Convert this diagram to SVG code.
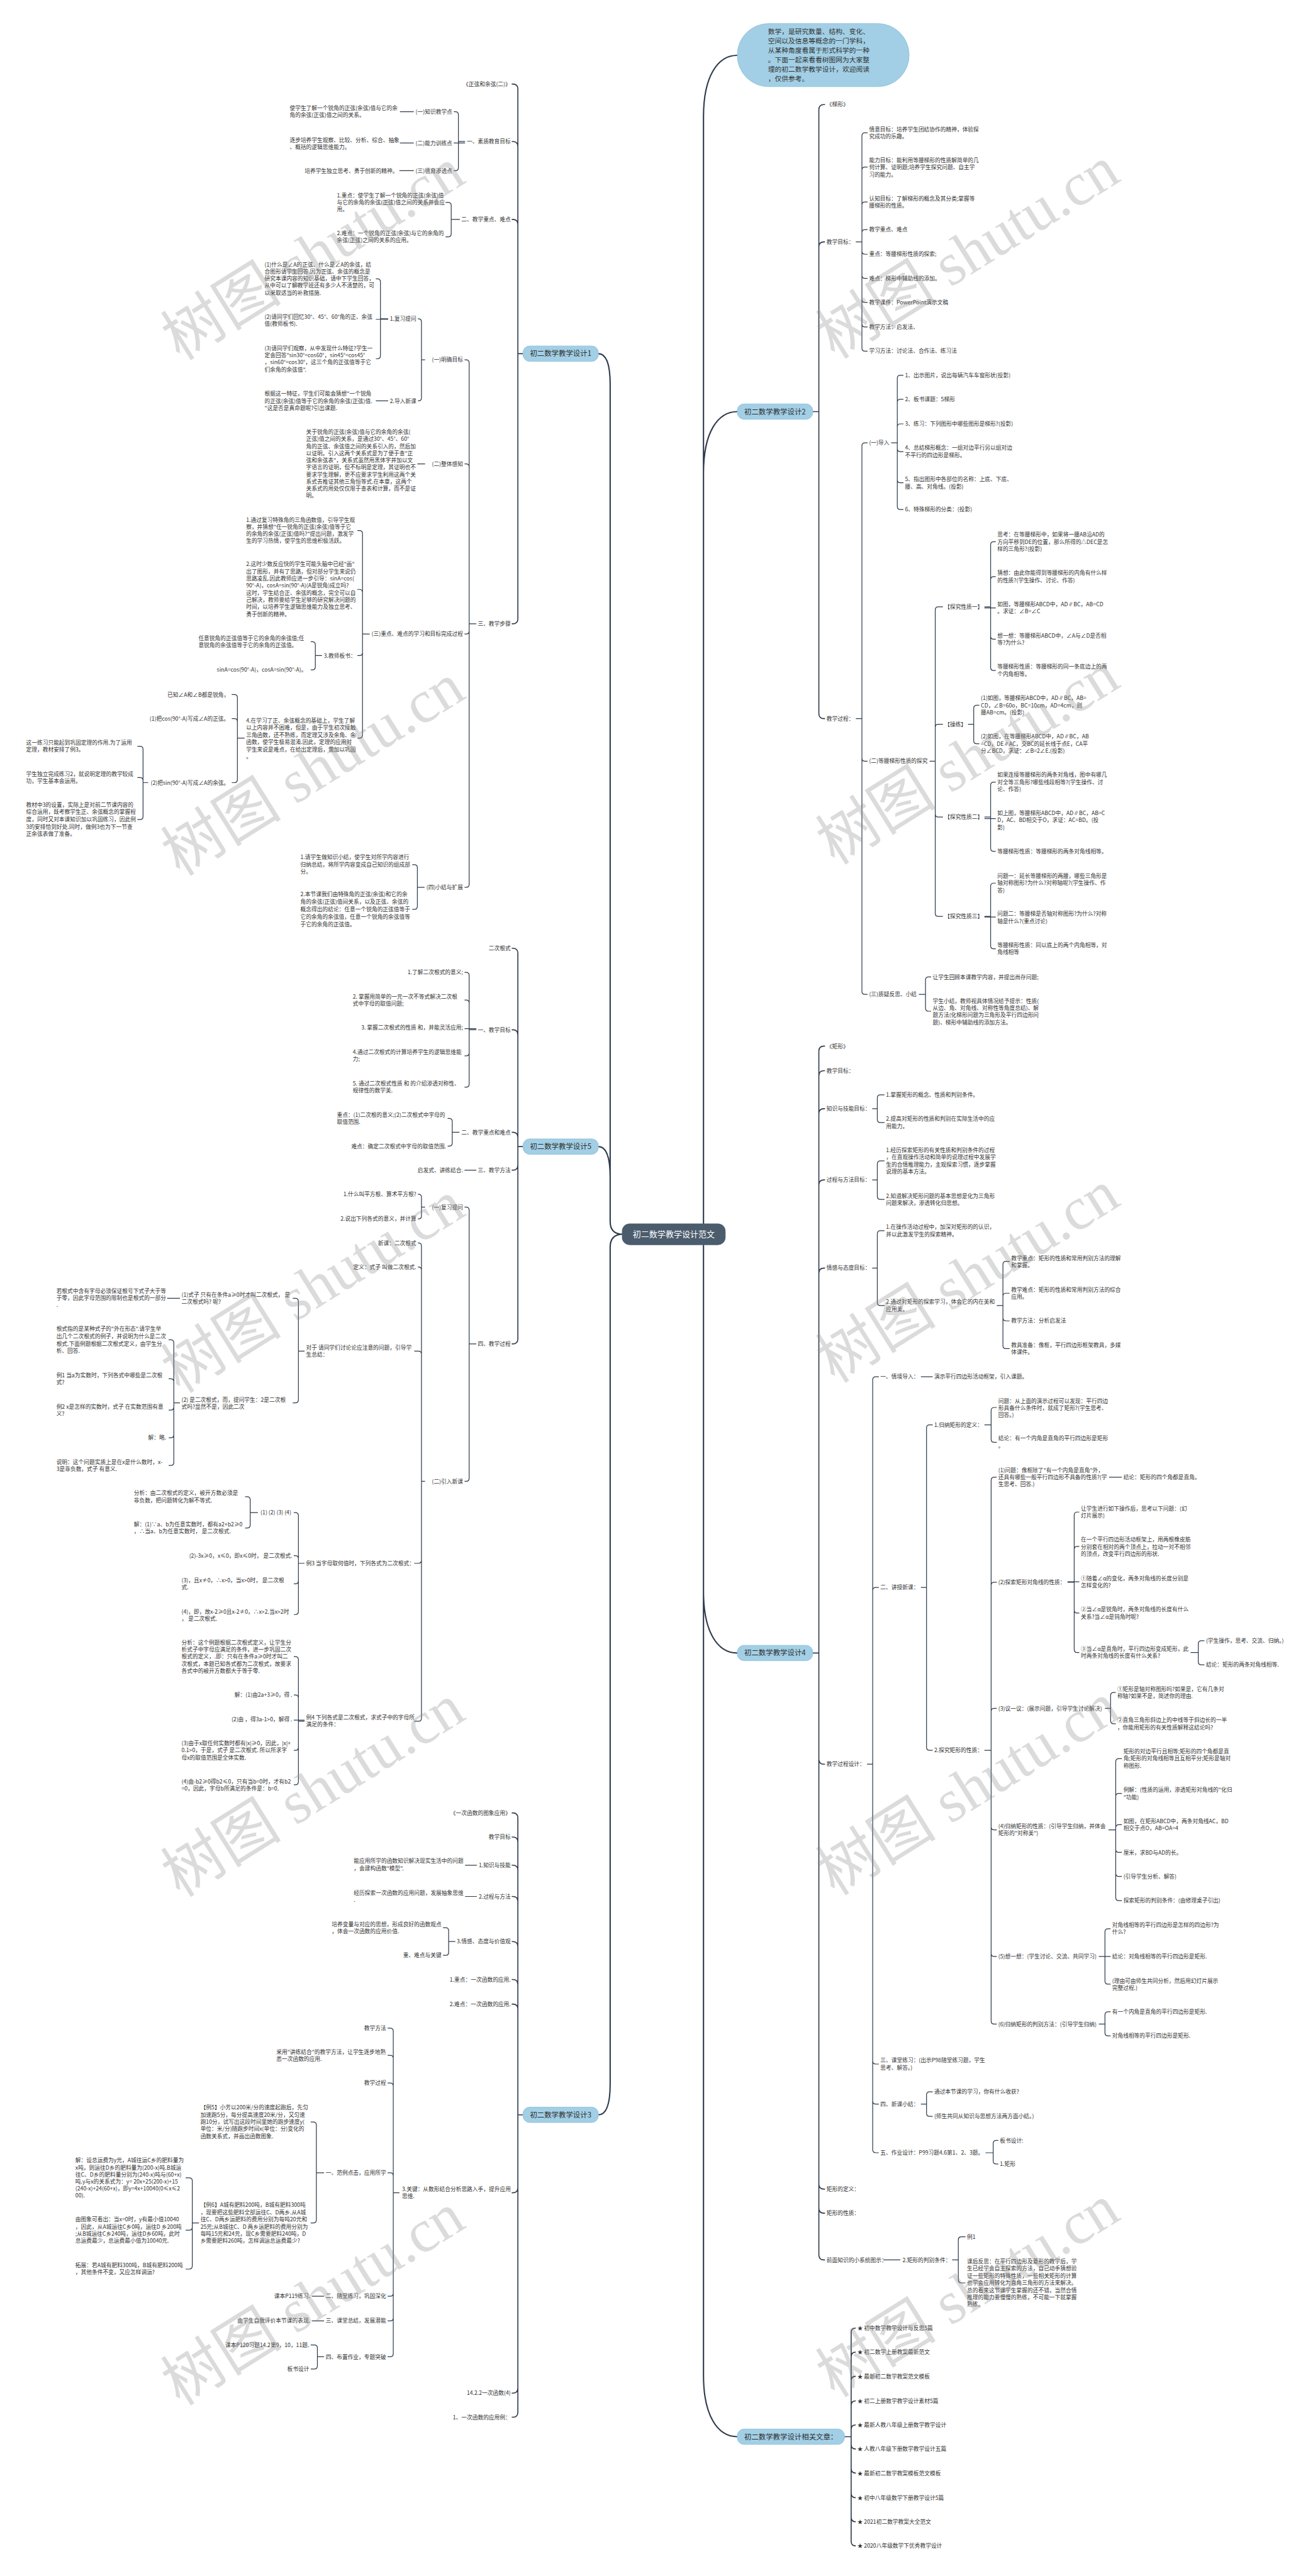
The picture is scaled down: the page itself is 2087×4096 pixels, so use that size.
<svg xmlns="http://www.w3.org/2000/svg" width="2087" height="4096" viewBox="0 0 2087 4096">
<style>
.t{font-family:"Noto Sans CJK SC","Liberation Sans",sans-serif;font-size:10.7px;fill:#333}
.e{text-anchor:end}
.c{fill:none;stroke:#2e3c4c;stroke-width:1.5}
.c2{stroke-width:2}
.c1{stroke-width:2.6}
.n1 rect{fill:#a2cfe5;stroke:#86bdd8;stroke-width:1}
.n1 text{font-family:"Noto Sans CJK SC","Liberation Sans",sans-serif;font-size:14px;fill:#2d2d2d;text-anchor:middle}
.root rect{fill:#4b5c6d}
.root text{font-family:"Noto Sans CJK SC","Liberation Sans",sans-serif;font-size:16px;fill:#fff;text-anchor:middle}
.bub text{font-family:"Noto Sans CJK SC","Liberation Sans",sans-serif;font-size:13.2px;fill:#333}
.wm{font-family:"Liberation Serif","Noto Sans CJK SC",serif;font-size:118px;fill:#8c8c8c;opacity:.3}
</style>
<rect width="2087" height="4096" fill="#fff"/>
<g transform="scale(0.815)">
<g id="connectors">
<path class="c c1" d="M1372 2408V228C1372 148 1400 108 1438 108M1372 2408V923C1372 843 1400 803 1438 803M1372 2408V3105C1372 3185 1400 3225 1438 3225M1372 2408V4634C1372 4714 1400 4754 1438 4754M1215 2408C1198 2408 1190 2400 1190 2383V750C1190 710 1182 690 1167 690M1215 2408C1198 2408 1190 2400 1190 2383V2297C1190 2257 1182 2237 1167 2237M1215 2408C1198 2408 1190 2416 1190 2433V4066C1190 4106 1182 4126 1167 4126"/>
<path class="c c2" d="M1020 690H1010V174Q1010 164 1000 164H998M1020 690H1010V286Q1010 276 1000 276H998M1020 690H1010V438Q1010 428 1000 428H998M1020 690H1010V1207Q1010 1217 1000 1217H998
M1020 2237H1010V1860Q1010 1850 1000 1850H998M1020 2237H1010V2019Q1010 2009 1000 2009H998M1020 2237H1010V2219Q1010 2209 1000 2209H998M1020 2237H1010V2273Q1010 2283 1000 2283H998M1020 2237H1010V2612Q1010 2622 1000 2622H998
M1020 4126H1010V3547Q1010 3537 1000 3537H998M1020 4126H1010V3594Q1010 3584 1000 3584H998M1020 4126H1010V3649Q1010 3639 1000 3639H998M1020 4126H1010V3710Q1010 3700 1000 3700H998M1020 4126H1010V3798Q1010 3788 1000 3788H998M1020 4126H1010V3872Q1010 3862 1000 3862H998M1020 4126H1010V3920Q1010 3910 1000 3910H998M1020 4126H1010V4268Q1010 4278 1000 4278H998M1020 4126H1010V4659Q1010 4669 1000 4669H998M1020 4126H1010V4706Q1010 4716 1000 4716H998
M1585 803H1597V214Q1597 204 1607 204H1609M1585 803H1597V482Q1597 472 1607 472H1609M1585 803H1597V1392Q1597 1402 1607 1402H1609
M1585 3225H1597V2051Q1597 2041 1607 2041H1609M1585 3225H1597V2099Q1597 2089 1607 2089H1609M1585 3225H1597V2173Q1597 2163 1607 2163H1609M1585 3225H1597V2312Q1597 2302 1607 2302H1609M1585 3225H1597V2484Q1597 2474 1607 2474H1609M1585 3225H1597V3432Q1597 3442 1607 3442H1609M1585 3225H1597V4261Q1597 4271 1607 4271H1609M1585 3225H1597V4308Q1597 4318 1607 4318H1609M1585 3225H1597V4399Q1597 4409 1607 4409H1609
M1647 4754H1660V4551Q1660 4542 1669 4542M1647 4754H1660V4598Q1660 4589 1669 4589M1647 4754H1660V4645Q1660 4636 1669 4636M1647 4754H1660V4693Q1660 4684 1669 4684M1647 4754H1660V4740Q1660 4731 1669 4731M1647 4754H1660V4769Q1660 4778 1669 4778M1647 4754H1660V4816Q1660 4825 1669 4825M1647 4754H1660V4864Q1660 4873 1669 4873M1647 4754H1660V4911Q1660 4920 1669 4920M1647 4754H1660V4958Q1660 4967 1669 4967"/>
<path class="c" d="M907 276H894V224Q894 218 888 218H885M907 279H885M907 276H894V327Q894 333 888 333H885M807 218H780M807 279H780M807 333H779
M897 428H880V401Q880 395 874 395H869M897 428H880V456Q880 462 874 462H869
M929 1217H915V708Q915 702 909 702H906M929 1217H915V911Q915 905 909 905H906M929 1217H915V1231Q915 1237 909 1237H906M929 1217H915V1725Q915 1731 909 1731H906
M829 702H822V628Q822 622 816 622H815M829 702H822V776Q822 782 816 782H815
M757 622H742V550Q742 544 736 544H733M757 623H733M757 622H742V694Q742 700 736 700H733M757 782H733M829 905H814
M721 1237H707V1041Q707 1035 701 1035H697M721 1237H707V1156Q707 1150 701 1150H697M721 1237H707V1273Q707 1279 701 1279H697M721 1237H707V1434Q707 1440 701 1440H697
M628 1279H615V1258Q615 1252 609 1252H606M628 1279H615V1301Q615 1307 609 1307H606
M477 1440H463V1361Q463 1355 457 1355H452M477 1440H463V1408Q463 1402 457 1402H452M477 1440H463V1521Q463 1527 457 1527H452
M289 1527H279V1462Q279 1456 273 1456H268M289 1527H279V1523Q279 1517 273 1517H268M289 1527H279V1593Q279 1599 273 1599H268
M828 1731H814V1693Q814 1687 808 1687H804M828 1731H814V1768Q814 1774 808 1774H804
M929 2009H915V1903Q915 1897 909 1897H906M929 2009H915V1957Q915 1951 909 1951H906M929 2007H906M929 2009H915V2054Q915 2060 909 2060H906M929 2009H915V2115Q915 2121 909 2121H906
M896 2209H882V2188Q882 2182 876 2182H873M896 2209H882V2230Q882 2236 876 2236H873M929 2283H906
M929 2622H915V2361Q915 2355 909 2355H906M929 2622H915V2884Q915 2890 909 2890H906
M829 2355H822V2336Q822 2330 816 2330H815M829 2355H822V2372Q822 2378 816 2378H815
M829 2890H822V2431Q822 2425 816 2425H815M829 2890H822V2478Q822 2472 816 2472H815M829 2890H822V2642Q822 2636 816 2636H808M829 2890H822V3044Q822 3050 816 3050H808M829 2890H822V3352Q822 3358 816 3358H808
M594 2636H582V2539Q582 2533 576 2533H571M594 2636H582V2731Q582 2737 576 2737H571M351 2533H326
M351 2737H339V2620Q339 2614 333 2614H329M351 2737H339V2696Q339 2690 333 2690H329M351 2737H339V2745Q339 2751 333 2751H329M351 2737H339V2799Q339 2805 333 2805H329M351 2737H339V2853Q339 2859 333 2859H329
M594 3050H582V2957Q582 2951 576 2951H573M594 3050H582V3041Q582 3035 576 3035H573M594 3050H582V3084Q582 3090 576 3090H573M594 3050H582V3144Q582 3150 576 3150H573
M503 2951H488V2926Q488 2920 482 2920H478M503 2951H488V2975Q488 2981 482 2981H478
M594 3358H582V3238Q582 3232 576 3232H573M594 3358H582V3313Q582 3307 576 3307H573M594 3356H573M594 3358H582V3409Q582 3415 576 3415H573M594 3358H582V3476Q582 3482 576 3482H573
M930 3639H907M930 3700H907M888 3788H875V3767Q875 3761 869 3761H864M888 3788H875V3809Q875 3815 869 3815H864
M779 4278H767V3963Q767 3957 761 3957H756M779 4278H767V4016Q767 4010 761 4010H756M779 4278H767V4070Q767 4064 761 4064H756M779 4278H767V4245Q767 4239 761 4239H756M779 4278H767V4474Q767 4480 761 4480H756M779 4278H767V4522Q767 4528 761 4528H756M779 4278H767V4592Q767 4598 761 4598H756
M632 4239H617V4146Q617 4140 611 4140H606M632 4239H617V4331Q617 4337 611 4337H606
M388 4337H375V4255Q375 4249 369 4249H362M388 4337H375V4345Q375 4351 369 4351H362M388 4337H375V4421Q375 4427 369 4427H362
M632 4480H608M632 4528H608M632 4598H619V4581Q619 4575 613 4575H606M632 4598H619V4616Q619 4622 613 4622H606
M1669 472H1681V265Q1681 259 1687 259H1692M1669 472H1681V332Q1681 326 1687 326H1692M1669 472H1681V400Q1681 394 1687 394H1692M1669 472H1681V454Q1681 448 1687 448H1692M1669 472H1681V490Q1681 496 1687 496H1692M1669 472H1681V537Q1681 543 1687 543H1692M1669 472H1681V584Q1681 590 1687 590H1692M1669 472H1681V632Q1681 638 1687 638H1692M1669 472H1681V679Q1681 685 1687 685H1692
M1669 1402H1681V870Q1681 864 1687 864H1692M1669 1402H1681V1479Q1681 1485 1687 1485H1692M1669 1402H1681V1934Q1681 1940 1687 1940H1692
M1738 864H1750V738Q1750 732 1756 732H1762M1738 864H1750V785Q1750 779 1756 779H1762M1738 864H1750V833Q1750 827 1756 827H1762M1738 864H1750V875Q1750 881 1756 881H1762M1738 864H1750V936Q1750 942 1756 942H1762M1738 864H1750V988Q1750 994 1756 994H1762
M1813 1485H1824V1190Q1824 1184 1830 1184H1839M1813 1485H1824V1419Q1824 1413 1830 1413H1839M1813 1485H1824V1588Q1824 1594 1830 1594H1839M1813 1485H1824V1782Q1824 1788 1830 1788H1839
M1920 1184H1932V1063Q1932 1057 1938 1057H1942M1920 1184H1932V1131Q1932 1125 1938 1125H1942M1920 1186H1942M1920 1184H1932V1241Q1932 1247 1938 1247H1942M1920 1184H1932V1302Q1932 1308 1938 1308H1942
M1888 1413H1899V1382Q1899 1376 1905 1376H1910M1888 1413H1899V1445Q1899 1451 1905 1451H1910
M1920 1594H1932V1532Q1932 1526 1938 1526H1942M1920 1597H1942M1920 1594H1932V1655Q1932 1661 1938 1661H1942
M1920 1788H1932V1729Q1932 1723 1938 1723H1942M1920 1789H1942M1920 1788H1932V1845Q1932 1851 1938 1851H1942
M1792 1940H1805V1912Q1805 1906 1811 1906H1816M1792 1940H1805V1967Q1805 1973 1811 1973H1816
M1701 2163H1711V2142Q1711 2136 1717 2136H1725M1701 2163H1711V2184Q1711 2190 1717 2190H1725
M1701 2302H1711V2271Q1711 2265 1717 2265H1725M1701 2302H1711V2334Q1711 2340 1717 2340H1725
M1701 2474H1711V2407Q1711 2401 1717 2401H1725M1701 2474H1711V2541Q1711 2547 1717 2547H1725
M1944 2547H1956V2467Q1956 2461 1962 2461H1969M1944 2547H1956V2529Q1956 2523 1962 2523H1969M1944 2547H1956V2571Q1956 2577 1962 2577H1969M1944 2547H1956V2625Q1956 2631 1962 2631H1969
M1691 3442H1702V2692Q1702 2686 1708 2686H1714M1691 3442H1702V3103Q1702 3097 1708 3097H1714M1691 3442H1702V4021Q1702 4027 1708 4027H1714M1691 3442H1702V4099Q1702 4105 1708 4105H1714M1691 3442H1702V4194Q1702 4200 1708 4200H1714
M1796 2686H1819M1796 3097H1807V2786Q1807 2780 1813 2780H1819M1796 3097H1807V3409Q1807 3415 1813 3415H1819
M1920 2780H1933V2752Q1933 2746 1939 2746H1944M1920 2780H1933V2808Q1933 2814 1939 2814H1944
M1920 3415H1933V2888Q1933 2882 1939 2882H1944M1920 3415H1933V3093Q1933 3087 1939 3087H1944M1920 3415H1933V3339Q1933 3333 1939 3333H1944M1920 3415H1933V3564Q1933 3570 1939 3570H1944M1920 3415H1933V3811Q1933 3817 1939 3817H1944M1920 3415H1933V3943Q1933 3949 1939 3949H1944
M2163 2882H2188
M2082 3087H2095V2956Q2095 2950 2101 2950H2105M2082 3087H2095V3023Q2095 3017 2101 3017H2105M2082 3086H2105M2082 3087H2095V3141Q2095 3147 2101 3147H2105M2082 3087H2095V3218Q2095 3224 2101 3224H2105
M2322 3224H2337V3207Q2337 3201 2343 3201H2349M2322 3224H2337V3242Q2337 3248 2343 3248H2349
M2155 3333H2166V3308Q2166 3302 2172 3302H2176M2155 3333H2166V3357Q2166 3363 2172 3363H2176
M2162 3570H2176V3437Q2176 3431 2182 3431H2188M2162 3570H2176V3505Q2176 3499 2182 3499H2188M2162 3570H2176V3566Q2176 3560 2182 3560H2188M2162 3570H2176V3608Q2176 3614 2182 3614H2188M2162 3570H2176V3655Q2176 3661 2182 3661H2188M2162 3570H2176V3702Q2176 3708 2182 3708H2188
M2143 3817H2155V3769Q2155 3763 2161 3763H2166M2143 3817H2166M2143 3817H2155V3865Q2155 3871 2161 3871H2166
M2143 3949H2155V3931Q2155 3925 2161 3925H2166M2143 3949H2155V3966Q2155 3972 2161 3972H2166
M1796 4105H1807V4087Q1807 4081 1813 4081H1819M1796 4105H1807V4123Q1807 4129 1813 4129H1819
M1922 4200H1937V4182Q1937 4176 1943 4176H1947M1922 4200H1937V4216Q1937 4222 1943 4222H1947
M1723 4409H1756M1857 4409H1869V4370Q1869 4364 1875 4364H1883M1857 4409H1869V4448Q1869 4454 1875 4454H1883"/>
</g>

<g id="root" class="root"><rect x="1213" y="2387" width="202" height="42" rx="15"/><text x="1314" y="2413.6">初二数学教学设计范文</text></g>
<g id="intro" class="bub"><rect x="1438" y="46" width="335" height="123" rx="61" fill="#a2cfe5" stroke="#86bdd8"/>
<text x="1498" y="66.8"><tspan>数学，是研究数量、结构、变化、</tspan><tspan x="1498" dy="18.2">空间以及信息等概念的一门学科，</tspan><tspan x="1498" dy="18.2">从某种角度看属于形式科学的一种</tspan><tspan x="1498" dy="18.2">。下面一起来看看树图网为大家整</tspan><tspan x="1498" dy="18.2">理的初二数学教学设计，欢迎阅读</tspan><tspan x="1498" dy="18.2">，仅供参考。</tspan></text></g>
<g id="d1" class="n1"><rect x="1020" y="675" width="147" height="30" rx="13"/><text x="1093.5" y="695">初二数学教学设计1</text></g>
<g id="d5" class="n1"><rect x="1020" y="2222" width="147" height="30" rx="13"/><text x="1093.5" y="2242">初二数学教学设计5</text></g>
<g id="d3" class="n1"><rect x="1020" y="4111" width="147" height="30" rx="13"/><text x="1093.5" y="4131">初二数学教学设计3</text></g>
<g id="d2" class="n1"><rect x="1438" y="788" width="147" height="30" rx="13"/><text x="1511.5" y="808">初二数学教学设计2</text></g>
<g id="d4" class="n1"><rect x="1438" y="3210" width="147" height="30" rx="13"/><text x="1511.5" y="3230">初二数学教学设计4</text></g>
<g id="rel" class="n1"><rect x="1438" y="4739" width="209" height="30" rx="13"/><text x="1542.5" y="4759">初二数学教学设计相关文章：</text></g>

<g id="design1-items">
<g id="a1"><text class="t e" x="996" y="167.9">《正弦和余弦(二)》</text></g>
<g id="a2"><text class="t e" x="996" y="279.9">一、素质教育目标</text></g>
<g id="a3"><text class="t e" x="882" y="221.9">(一)知识教学点</text></g>
<g id="a4"><text class="t" x="565" y="214.9"><tspan>使学生了解一个锐角的正弦(余弦)值与它的余</tspan><tspan x="565" dy="13.5">角的余弦(正弦)值之间的关系。</tspan></text></g>
<g id="a5"><text class="t e" x="882" y="282.9">(二)能力训练点</text></g>
<g id="a6"><text class="t" x="565" y="276.9"><tspan>逐步培养学生观察、比较、分析、综合、抽象</tspan><tspan x="565" dy="13.5">、概括的逻辑思维能力。</tspan></text></g>
<g id="a7"><text class="t e" x="882" y="336.9">(三)德育渗透点</text></g>
<g id="a8"><text class="t e" x="776" y="336.9">培养学生独立思考、勇于创新的精神。</text></g>
<g id="a9"><text class="t e" x="996" y="431.9">二、教学重点、难点</text></g>
<g id="a10"><text class="t" x="657" y="384.9"><tspan>1.重点：使学生了解一个锐角的正弦(余弦)值</tspan><tspan x="657" dy="13.5">与它的余角的余弦(正弦)值之间的关系并会应</tspan><tspan x="657" dy="13.5">用。</tspan></text></g>
<g id="a11"><text class="t" x="657" y="458.9"><tspan>2.难点：一个锐角的正弦(余弦)与它的余角的</tspan><tspan x="657" dy="13.5">余弦(正弦)之间的关系的应用。</tspan></text></g>
<g id="a12"><text class="t e" x="996" y="1220.9">三、教学步骤</text></g>
<g id="a13"><text class="t e" x="903" y="705.9">(一)明确目标</text></g>
<g id="a14"><text class="t e" x="812" y="625.9">1.复习提问</text></g>
<g id="a15"><text class="t" x="516" y="519.9"><tspan>(1)什么是∠A的正弦、什么是∠A的余弦，结</tspan><tspan x="516" dy="13.8">合图形请学生回答.因为正弦、余弦的概念是</tspan><tspan x="516" dy="13.8">研究本课内容的知识基础，请中下学生回答，</tspan><tspan x="516" dy="13.8">从中可以了解教学班还有多少人不清楚的，可</tspan><tspan x="516" dy="13.8">以采取适当的补救措施.</tspan></text></g>
<g id="a16"><text class="t" x="516" y="621.9"><tspan>(2)请同学们回忆30°、45°、60°角的正、余弦</tspan><tspan x="516" dy="13.8">值(教师板书).</tspan></text></g>
<g id="a17"><text class="t" x="516" y="682.9"><tspan>(3)请同学们观察，从中发现什么特征?学生一</tspan><tspan x="516" dy="14">定会回答"sin30°=cos60°，sin45°=cos45°</tspan><tspan x="516" dy="14">，sin60°=cos30°，这三个角的正弦值等于它</tspan><tspan x="516" dy="14">们余角的余弦值".</tspan></text></g>
<g id="a18"><text class="t e" x="812" y="785.9">2.导入新课</text></g>
<g id="a19"><text class="t" x="516" y="771.9"><tspan>根据这一特征，学生们可能会猜想"一个锐角</tspan><tspan x="516" dy="14">的正弦(余弦)值等于它的余角的余弦(正弦)值.</tspan><tspan x="516" dy="14">"这是否是真命题呢?引出课题.</tspan></text></g>
<g id="a20"><text class="t e" x="903" y="908.9">(二)整体感知</text></g>
<g id="a21"><text class="t" x="597" y="846.9"><tspan>关于锐角的正弦(余弦)值与它的余角的余弦(</tspan><tspan x="597" dy="13.8">正弦)值之间的关系，是通过30°、45°、60°</tspan><tspan x="597" dy="13.8">角的正弦、余弦值之间的关系引入的，然后加</tspan><tspan x="597" dy="13.8">以证明。引入这两个关系式是为了便于查"正</tspan><tspan x="597" dy="13.8">弦和余弦表"，关系式虽然用黑体字并加以文</tspan><tspan x="597" dy="13.8">字语言的证明，但不标明是定理，其证明也不</tspan><tspan x="597" dy="13.8">要求学生理解，更不应要求学生利用这两个关</tspan><tspan x="597" dy="13.8">系式去推证其他三角恒等式.在本章，这两个</tspan><tspan x="597" dy="13.8">关系式的用处仅仅限于查表和计算，而不是证</tspan><tspan x="597" dy="13.8">明。</tspan></text></g>
<g id="a22"><text class="t e" x="903" y="1240.9">(三)重点、难点的学习和目标完成过程</text></g>
<g id="a23"><text class="t" x="480" y="1017.9"><tspan>1.通过复习特殊角的三角函数值，引导学生观</tspan><tspan x="480" dy="13.8">察，并猜想"任一锐角的正弦(余弦)值等于它</tspan><tspan x="480" dy="13.8">的余角的余弦(正弦)值吗?"提出问题，激发学</tspan><tspan x="480" dy="13.8">生的学习热情，使学生的思维积极活跃。</tspan></text></g>
<g id="a24"><text class="t" x="480" y="1104.9"><tspan>2.这时少数反应快的学生可能头脑中已经"画"</tspan><tspan x="480" dy="13.9">出了图形，并有了思路，但对部分学生来说仍</tspan><tspan x="480" dy="13.9">思路凌乱.因此教师应进一步引导：sinA=cos(</tspan><tspan x="480" dy="13.9">90°-A)，cosA=sin(90°-A)(A是锐角)成立吗?</tspan><tspan x="480" dy="13.9">这时，学生结合正、余弦的概念，完全可以自</tspan><tspan x="480" dy="13.9">己解决，教师要给学生足够的研究解决问题的</tspan><tspan x="480" dy="13.9">时间，以培养学生逻辑思维能力及独立思考、</tspan><tspan x="480" dy="13.9">勇于创新的精神。</tspan></text></g>
<g id="a25"><text class="t e" x="694" y="1282.9">3.教师板书：</text></g>
<g id="a26"><text class="t" x="387" y="1248.9"><tspan>任意锐角的正弦值等于它的余角的余弦值;任</tspan><tspan x="387" dy="13.8">意锐角的余弦值等于它的余角的正弦值。</tspan></text></g>
<g id="a27"><text class="t e" x="598" y="1310.9">sinA=cos(90°-A)，cosA=sin(90°-A)。</text></g>
<g id="a28"><text class="t" x="480" y="1409.9"><tspan>4.在学习了正、余弦概念的基础上，学生了解</tspan><tspan x="480" dy="14">以上内容并不困难，但是，由于学生初次接触</tspan><tspan x="480" dy="14">三角函数，还不熟练，而定理又涉及余角、余</tspan><tspan x="480" dy="14">函数，使学生极易混淆.因此，定理的应用对</tspan><tspan x="480" dy="14">学生来说是难点，在给出定理后，需加以巩固</tspan><tspan x="480" dy="14">。</tspan></text></g>
<g id="a29"><text class="t e" x="447" y="1358.9">已知∠A和∠B都是锐角，</text></g>
<g id="a30"><text class="t e" x="447" y="1405.9">(1)把cos(90°-A)写成∠A的正弦。</text></g>
<g id="a31"><text class="t e" x="447" y="1530.9">(2)把sin(90°-A)写成∠A的余弦。</text></g>
<g id="a32"><text class="t" x="51" y="1452.9"><tspan>这一练习只能起到巩固定理的作用.为了运用</tspan><tspan x="51" dy="13.8">定理，教材安排了例3。</tspan></text></g>
<g id="a33"><text class="t" x="51" y="1513.9"><tspan>学生独立完成练习2，就说明定理的教学较成</tspan><tspan x="51" dy="13.8">功，学生基本会运用。</tspan></text></g>
<g id="a34"><text class="t" x="51" y="1573.9"><tspan>教材中3的设置，实际上是对前二节课内容的</tspan><tspan x="51" dy="14.3">综合运用，既考察学生正、余弦概念的掌握程</tspan><tspan x="51" dy="14.3">度，同时又对本课知识加以巩固练习，因此例</tspan><tspan x="51" dy="14.3">3的安排恰到好处.同时，做例3也为下一节查</tspan><tspan x="51" dy="14.3">正余弦表做了准备。</tspan></text></g>
<g id="a35"><text class="t e" x="903" y="1734.9">(四)小结与扩展</text></g>
<g id="a36"><text class="t" x="586" y="1675.9"><tspan>1.请学生做知识小结，使学生对所学内容进行</tspan><tspan x="586" dy="14.5">归纳总结，将所学内容变成自己知识的组成部</tspan><tspan x="586" dy="14.5">分。</tspan></text></g>
<g id="a37"><text class="t" x="586" y="1748.9"><tspan>2.本节课我们由特殊角的正弦(余弦)和它的余</tspan><tspan x="586" dy="14.5">角的余弦(正弦)值间关系，以及正弦、余弦的</tspan><tspan x="586" dy="14.5">概念得出的结论：任意一个锐角的正弦值等于</tspan><tspan x="586" dy="14.5">它的余角的余弦值，任意一个锐角的余弦值等</tspan><tspan x="586" dy="14.5">于它的余角的正弦值。</tspan></text></g>
</g>

<g id="design5-items">
<g id="b1"><text class="t e" x="996" y="1853.9">二次根式</text></g>
<g id="b2"><text class="t e" x="996" y="2012.9">一、教学目标</text></g>
<g id="b3"><text class="t e" x="903" y="1900.9">1.了解二次根式的意义;</text></g>
<g id="b4"><text class="t" x="688" y="1947.9"><tspan>2. 掌握用简单的一元一次不等式解决二次根</tspan><tspan x="688" dy="13.8">式中字母的取值问题;</tspan></text></g>
<g id="b5"><text class="t e" x="903" y="2008.9">3. 掌握二次根式的性质 和，并能灵活应用;</text></g>
<g id="b6"><text class="t" x="688" y="2056.9"><tspan>4.通过二次根式的计算培养学生的逻辑思维能</tspan><tspan x="688" dy="13.5">力;</tspan></text></g>
<g id="b7"><text class="t" x="688" y="2117.9"><tspan>5. 通过二次根式性质 和 的介绍渗透对称性、</tspan><tspan x="688" dy="13.8">规律性的数学美.</tspan></text></g>
<g id="b8"><text class="t e" x="996" y="2212.9">二、教学重点和难点</text></g>
<g id="b9"><text class="t" x="657" y="2178.9"><tspan>重点：(1)二次根的意义;(2)二次根式中字母的</tspan><tspan x="657" dy="13.8">取值范围.</tspan></text></g>
<g id="b10"><text class="t e" x="870" y="2239.9">难点：确定二次根式中字母的取值范围.</text></g>
<g id="b11"><text class="t e" x="996" y="2286.9">三、教学方法</text></g>
<g id="b12"><text class="t e" x="903" y="2286.9">启发式、讲练结合.</text></g>
<g id="b13"><text class="t e" x="996" y="2625.9">四、教学过程</text></g>
<g id="b14"><text class="t e" x="903" y="2358.9">(一)复习提问</text></g>
<g id="b15"><text class="t e" x="812" y="2333.9">1.什么叫平方根、算术平方根?</text></g>
<g id="b16"><text class="t e" x="812" y="2381.9">2.说出下列各式的意义，并计算</text></g>
<g id="b17"><text class="t e" x="903" y="2893.9">(二)引入新课</text></g>
<g id="b18"><text class="t e" x="812" y="2428.9">新课：二次根式</text></g>
<g id="b19"><text class="t e" x="812" y="2475.9">定义：式子 叫做二次根式.</text></g>
<g id="b20"><text class="t" x="597" y="2632.9"><tspan>对于 请同学们讨论论应注意的问题，引导学</tspan><tspan x="597" dy="13.5">生总结：</tspan></text></g>
<g id="b21"><text class="t" x="354" y="2529.9"><tspan>(1)式子 只有在条件a≥0时才叫二次根式， 是</tspan><tspan x="354" dy="13.5">二次根式吗? 呢?</tspan></text></g>
<g id="b22"><text class="t" x="110" y="2522.9"><tspan>若根式中含有字母必须保证根号下式子大于等</tspan><tspan x="110" dy="13.5">于零，因此字母范围的限制也是根式的一部分</tspan><tspan x="110" dy="13.5">.</tspan></text></g>
<g id="b23"><text class="t" x="354" y="2734.4"><tspan>(2) 是二次根式，而，提问学生：2是二次根</tspan><tspan x="354" dy="13.5">式吗?显然不是，因此二次</tspan></text></g>
<g id="b24"><text class="t" x="110" y="2596.9"><tspan>根式指的是某种式子的"外在形态".请学生举</tspan><tspan x="110" dy="14.3">出几个二次根式的例子，并说明为什么是二次</tspan><tspan x="110" dy="14.3">根式.下面例题根据二次根式定义，由学生分</tspan><tspan x="110" dy="14.3">析、回答.</tspan></text></g>
<g id="b25"><text class="t" x="110" y="2686.9"><tspan>例1 当a为实数时，下列各式中哪些是二次根</tspan><tspan x="110" dy="13.5">式?</tspan></text></g>
<g id="b26"><text class="t" x="110" y="2747.9"><tspan>例2 x是怎样的实数时，式子 在实数范围有意</tspan><tspan x="110" dy="13.5">义?</tspan></text></g>
<g id="b27"><text class="t e" x="324" y="2808.9">解：略.</text></g>
<g id="b28"><text class="t" x="110" y="2855.9"><tspan>说明：这个问题实质上是在x是什么数时，x-</tspan><tspan x="110" dy="13.8">3是非负数，式子 有意义.</tspan></text></g>
<g id="b29"><text class="t" x="597" y="3053.9">例3 当字母取何值时，下列各式为二次根式：</text></g>
<g id="b30"><text class="t e" x="568" y="2954.9">(1) (2) (3) (4)</text></g>
<g id="b31"><text class="t" x="261" y="2916.9"><tspan>分析：由二次根式的定义，被开方数必须是</tspan><tspan x="261" dy="13.8">非负数，把问题转化为解不等式.</tspan></text></g>
<g id="b32"><text class="t" x="261" y="2977.9"><tspan>解：(1)∵a、b为任意实数时，都有a2+b2≥0</tspan><tspan x="261" dy="13.8">，∴当a、b为任意实数时， 是二次根式.</tspan></text></g>
<g id="b33"><text class="t e" x="570" y="3038.9">(2)-3x≥0，x≤0，即x≤0时， 是二次根式.</text></g>
<g id="b34"><text class="t" x="354" y="3086.9"><tspan>(3)，且x≠0，∴x&gt;0，当x&gt;0时， 是二次根</tspan><tspan x="354" dy="13.5">式.</tspan></text></g>
<g id="b35"><text class="t" x="354" y="3147.9"><tspan>(4)，即，故x-2≥0且x-2≠0，∴x&gt;2.当x&gt;2时</tspan><tspan x="354" dy="13.5">， 是二次根式.</tspan></text></g>
<g id="b36"><text class="t" x="597" y="3354.9"><tspan>例4 下列各式是二次根式，求式子中的字母所</tspan><tspan x="597" dy="13.8">满足的条件：</tspan></text></g>
<g id="b37"><text class="t" x="354" y="3208.9"><tspan>分析：这个例题根据二次根式定义，让学生分</tspan><tspan x="354" dy="13.6">析式子中字母应满足的条件，进一步巩固二次</tspan><tspan x="354" dy="13.6">根式的定义，.即：只有在条件a≥0时才叫二</tspan><tspan x="354" dy="13.6">次根式，本题已知各式都为二次根式，故要求</tspan><tspan x="354" dy="13.6">各式中的被开方数都大于等于零.</tspan></text></g>
<g id="b38"><text class="t e" x="570" y="3310.9">解：(1)由2a+3≥0，得 .</text></g>
<g id="b39"><text class="t e" x="570" y="3357.9">(2)由 ，得3a-1&gt;0，解得 .</text></g>
<g id="b40"><text class="t" x="354" y="3404.9"><tspan>(3)由于x取任何实数时都有|x|≥0，因此，|x|+</tspan><tspan x="354" dy="14">0.1&gt;0，于是，式子 是二次根式. 所以所求字</tspan><tspan x="354" dy="14">母x的取值范围是全体实数.</tspan></text></g>
<g id="b41"><text class="t" x="354" y="3479.4"><tspan>(4)由-b2≥0得b2≤0，只有当b=0时，才有b2</tspan><tspan x="354" dy="13.5">=0，因此，字母b所满足的条件是：b=0.</tspan></text></g>
</g>

<g id="design3-items">
<g id="c1"><text class="t e" x="996" y="3540.9">《一次函数的图象应用》</text></g>
<g id="c2"><text class="t e" x="996" y="3587.9">教学目标</text></g>
<g id="c3"><text class="t e" x="996" y="3642.9">1.知识与技能</text></g>
<g id="c4"><text class="t" x="690" y="3634.9"><tspan>能应用所学的函数知识解决现实生活中的问题</tspan><tspan x="690" dy="13.8">，会建构函数"模型".</tspan></text></g>
<g id="c5"><text class="t e" x="996" y="3703.9">2.过程与方法</text></g>
<g id="c6"><text class="t" x="690" y="3696.9"><tspan>经历探索一次函数的应用问题，发展抽象思维</tspan><tspan x="690" dy="13.8">.</tspan></text></g>
<g id="c7"><text class="t e" x="996" y="3791.9">3.情感、态度与价值观</text></g>
<g id="c8"><text class="t" x="647" y="3757.9"><tspan>培养变量与对应的思想，形成良好的函数观点</tspan><tspan x="647" dy="13.8">，体会一次函数的应用价值.</tspan></text></g>
<g id="c9"><text class="t e" x="861" y="3818.9">重、难点与关键</text></g>
<g id="c10"><text class="t e" x="996" y="3865.9">1.重点：一次函数的应用.</text></g>
<g id="c11"><text class="t e" x="996" y="3913.9">2.难点：一次函数的应用.</text></g>
<g id="c12"><text class="t" x="784" y="4274.9"><tspan>3.关键：从数形结合分析思路入手，提升应用</tspan><tspan x="784" dy="13.8">思维.</tspan></text></g>
<g id="c13"><text class="t e" x="753" y="3960.9">教学方法</text></g>
<g id="c14"><text class="t" x="539" y="4006.9"><tspan>采用"讲练结合"的教学方法，让学生逐步地熟</tspan><tspan x="539" dy="13.8">悉一次函数的应用.</tspan></text></g>
<g id="c15"><text class="t e" x="753" y="4067.9">教学过程</text></g>
<g id="c16"><text class="t e" x="753" y="4242.9">一、范例点击，应用所学</text></g>
<g id="c17"><text class="t" x="391" y="4115.9"><tspan>【例5】小芳以200米/分的速度起跑后，先匀</tspan><tspan x="391" dy="13.9">加速跑5分，每分提高速度20米/分，又匀速</tspan><tspan x="391" dy="13.9">跑10分，试写出这段时间里她的跑步速度y(</tspan><tspan x="391" dy="13.9">单位：米/分)随跑步时间x(单位：分)变化的</tspan><tspan x="391" dy="13.9">函数关系式，并画出函数图象.</tspan></text></g>
<g id="c18"><text class="t" x="391" y="4305.9"><tspan>【例6】A城有肥料200吨，B城有肥料300吨</tspan><tspan x="391" dy="14">，现要把这些肥料全部运往C、D两乡.从A城</tspan><tspan x="391" dy="14">往C、D两乡运肥料的费用分别为每吨20元和</tspan><tspan x="391" dy="14">25元;从B城往C、D 两乡运肥料的费用分别为</tspan><tspan x="391" dy="14">每吨15元和24元，现C乡需要肥料240吨，D</tspan><tspan x="391" dy="14">乡需要肥料260吨，怎样调运总运费最少?</tspan></text></g>
<g id="c19"><text class="t" x="147" y="4218.9"><tspan>解：设总运费为y元，A城往运C乡的肥料量为</tspan><tspan x="147" dy="13.7">x吨，则运往D乡的肥料量为(200-x)吨.B城运</tspan><tspan x="147" dy="13.7">往C、D乡的肥料量分别为(240-x)吨与(60+x)</tspan><tspan x="147" dy="13.7">吨.y与x的关系式为：y= 20x+25(200-x)+15</tspan><tspan x="147" dy="13.7">(240-x)+24(60+x)，即y=4x+10040(0≤x≤2</tspan><tspan x="147" dy="13.7">00).</tspan></text></g>
<g id="c20"><text class="t" x="147" y="4333.9"><tspan>由图象可看出：当x=0时，y有最小值10040</tspan><tspan x="147" dy="14">，因此，从A城运往C乡0吨，运往D 乡200吨</tspan><tspan x="147" dy="14">;从B城运往C乡240吨，运往D乡60吨，此时</tspan><tspan x="147" dy="14">总运费最少，总运费最小值为10040元.</tspan></text></g>
<g id="c21"><text class="t" x="147" y="4423.9"><tspan>拓展：若A城有肥料300吨，B城有肥料200吨</tspan><tspan x="147" dy="13.5">，其他条件不变，又应怎样调运?</tspan></text></g>
<g id="c22"><text class="t e" x="753" y="4483.9">二、随堂练习，巩固深化</text></g>
<g id="c23"><text class="t e" x="605" y="4483.9">课本P119练习.</text></g>
<g id="c24"><text class="t e" x="753" y="4531.9">三、课堂总结，发展潜能</text></g>
<g id="c25"><text class="t e" x="605" y="4531.9">由学生自我评价本节课的表现.</text></g>
<g id="c26"><text class="t e" x="753" y="4601.9">四、布置作业，专题突破</text></g>
<g id="c27"><text class="t e" x="603" y="4578.9">课本P120习题14.2第9，10，11题.</text></g>
<g id="c28"><text class="t e" x="603" y="4625.9">板书设计</text></g>
<g id="c29"><text class="t e" x="996" y="4672.9">14.2.2一次函数(4)</text></g>
<g id="c30"><text class="t e" x="996" y="4719.9">1、一次函数的应用例：</text></g>
</g>

<g id="design2-items">
<g id="e1"><text class="t" x="1612" y="207.9">《梯形》</text></g>
<g id="e2"><text class="t" x="1612" y="475.9">教学目标：</text></g>
<g id="e3"><text class="t" x="1695" y="255.9"><tspan>情意目标：培养学生团结协作的精神，体验探</tspan><tspan x="1695" dy="14">究成功的乐趣。</tspan></text></g>
<g id="e4"><text class="t" x="1695" y="316.4"><tspan>能力目标：能利用等腰梯形的性质解简单的几</tspan><tspan x="1695" dy="14">何计算、证明题;培养学生探究问题、自主学</tspan><tspan x="1695" dy="14">习的能力。</tspan></text></g>
<g id="e5"><text class="t" x="1695" y="390.9"><tspan>认知目标：了解梯形的概念及其分类;掌握等</tspan><tspan x="1695" dy="14">腰梯形的性质。</tspan></text></g>
<g id="e6"><text class="t" x="1695" y="451.9">教学重点、难点</text></g>
<g id="e7"><text class="t" x="1695" y="499.9">重点：等腰梯形性质的探索;</text></g>
<g id="e8"><text class="t" x="1695" y="546.9">难点：梯形中辅助线的添加。</text></g>
<g id="e9"><text class="t" x="1695" y="593.9">教学课件：PowerPoint演示文稿</text></g>
<g id="e10"><text class="t" x="1695" y="641.9">教学方法：启发法、</text></g>
<g id="e11"><text class="t" x="1695" y="688.9">学习方法：讨论法、合作法、练习法</text></g>
<g id="e12"><text class="t" x="1612" y="1405.9">教学过程：</text></g>
<g id="e13"><text class="t" x="1695" y="867.9">(一)导入</text></g>
<g id="e14"><text class="t" x="1765" y="735.9">1、出示图片，说出每辆汽车车窗形状(投影)</text></g>
<g id="e15"><text class="t" x="1765" y="782.9">2、板书课题：5梯形</text></g>
<g id="e16"><text class="t" x="1765" y="830.9">3、练习：下列图形中哪些图形是梯形?(投影)</text></g>
<g id="e17"><text class="t" x="1765" y="877.9"><tspan>4、总结梯形概念：一组对边平行另以组对边</tspan><tspan x="1765" dy="14">不平行的四边形是梯形。</tspan></text></g>
<g id="e18"><text class="t" x="1765" y="938.9"><tspan>5、指出图形中各部位的名称：上底、下底、</tspan><tspan x="1765" dy="14">腰、高、对角线。(投影)</tspan></text></g>
<g id="e19"><text class="t" x="1765" y="997.9">6、特殊梯形的分类：(投影)</text></g>
<g id="e20"><text class="t" x="1695" y="1488.9">(二)等腰梯形性质的探究</text></g>
<g id="e21"><text class="t" x="1842" y="1187.9">【探究性质一】</text></g>
<g id="e22"><text class="t" x="1945" y="1046.9"><tspan>思考：在等腰梯形中，如果将一腰AB沿AD的</tspan><tspan x="1945" dy="14">方向平移到DE的位置，那么所得的△DEC是怎</tspan><tspan x="1945" dy="14">样的三角形?(投影)</tspan></text></g>
<g id="e23"><text class="t" x="1945" y="1121.9"><tspan>猜想：由此你能得到等腰梯形的内角有什么样</tspan><tspan x="1945" dy="14">的性质?(学生操作、讨论、作答)</tspan></text></g>
<g id="e24"><text class="t" x="1945" y="1182.9"><tspan>如图，等腰梯形ABCD中，AD∥BC，AB=CD</tspan><tspan x="1945" dy="14">。求证：∠B=∠C</tspan></text></g>
<g id="e25"><text class="t" x="1945" y="1243.9"><tspan>想一想：等腰梯形ABCD中，∠A与∠D是否相</tspan><tspan x="1945" dy="14">等?为什么?</tspan></text></g>
<g id="e26"><text class="t" x="1945" y="1304.9"><tspan>等腰梯形性质：等腰梯形的同一条底边上的两</tspan><tspan x="1945" dy="14">个内角相等。</tspan></text></g>
<g id="e27"><text class="t" x="1842" y="1416.9">【操练】</text></g>
<g id="e28"><text class="t" x="1913" y="1365.9"><tspan>(1)如图，等腰梯形ABCD中，AD∥BC，AB=</tspan><tspan x="1913" dy="14">CD，∠B=60o，BC=10cm，AD=4cm，则</tspan><tspan x="1913" dy="14">腰AB=cm。(投影)</tspan></text></g>
<g id="e29"><text class="t" x="1913" y="1440.9"><tspan>(2)如图，在等腰梯形ABCD中，AD∥BC，AB</tspan><tspan x="1913" dy="14">=CD，DE∥AC，交BC的延长线于点E，CA平</tspan><tspan x="1913" dy="14">分∠BCD，求证：∠B=2∠E.(投影)</tspan></text></g>
<g id="e30"><text class="t" x="1842" y="1597.9">【探究性质二】</text></g>
<g id="e31"><text class="t" x="1945" y="1515.9"><tspan>如果连接等腰梯形的两条对角线，图中有哪几</tspan><tspan x="1945" dy="14">对全等三角形?哪些线段相等?(学生操作、讨</tspan><tspan x="1945" dy="14">论、作答)</tspan></text></g>
<g id="e32"><text class="t" x="1945" y="1589.9"><tspan>如上图，等腰梯形ABCD中，AD∥BC，AB=C</tspan><tspan x="1945" dy="14">D，AC、BD相交于O，求证：AC=BD。(投</tspan><tspan x="1945" dy="14">影)</tspan></text></g>
<g id="e33"><text class="t" x="1945" y="1664.9">等腰梯形性质：等腰梯形的两条对角线相等。</text></g>
<g id="e34"><text class="t" x="1842" y="1791.9">【探究性质三】</text></g>
<g id="e35"><text class="t" x="1945" y="1712.9"><tspan>问题一：延长等腰梯形的两腰，哪些三角形是</tspan><tspan x="1945" dy="14">轴对称图形?为什么?对称轴呢?(学生操作、作</tspan><tspan x="1945" dy="14">答)</tspan></text></g>
<g id="e36"><text class="t" x="1945" y="1786.9"><tspan>问题二：等腰梯是否轴对称图形?为什么?对称</tspan><tspan x="1945" dy="14">轴是什么?(重点讨论)</tspan></text></g>
<g id="e37"><text class="t" x="1945" y="1847.9"><tspan>等腰梯形性质：同以底上的两个内角相等，对</tspan><tspan x="1945" dy="14">角线相等</tspan></text></g>
<g id="e38"><text class="t" x="1695" y="1943.9">(三)质疑反思、小结</text></g>
<g id="e39"><text class="t" x="1819" y="1909.9">让学生回顾本课教学内容，并提出尚存问题;</text></g>
<g id="e40"><text class="t" x="1819" y="1956.9"><tspan>学生小结，教师视具体情况给予提示：性质(</tspan><tspan x="1819" dy="13.8">从边、角、对角线、对称性等角度总结)、解</tspan><tspan x="1819" dy="13.8">题方法(化梯形问题为三角形及平行四边形问</tspan><tspan x="1819" dy="13.8">题)、梯形中辅助线的添加方法。</tspan></text></g>
</g>

<g id="design4-items">
<g id="f1"><text class="t" x="1612" y="2044.9">《矩形》</text></g>
<g id="f2"><text class="t" x="1612" y="2092.9">教学目标：</text></g>
<g id="f3"><text class="t" x="1612" y="2166.9">知识与技能目标：</text></g>
<g id="f4"><text class="t" x="1728" y="2139.9">1.掌握矩形的概念、性质和判别条件。</text></g>
<g id="f5"><text class="t" x="1728" y="2186.9"><tspan>2.提高对矩形的性质和判别在实际生活中的应</tspan><tspan x="1728" dy="14">用能力。</tspan></text></g>
<g id="f6"><text class="t" x="1612" y="2305.9">过程与方法目标：</text></g>
<g id="f7"><text class="t" x="1728" y="2247.9"><tspan>1.经历探索矩形的有关性质和判别条件的过程</tspan><tspan x="1728" dy="14">，在直观操作活动和简单的说理过程中发展学</tspan><tspan x="1728" dy="14">生的合情推理能力，主观探索习惯，逐步掌握</tspan><tspan x="1728" dy="14">说理的基本方法。</tspan></text></g>
<g id="f8"><text class="t" x="1728" y="2336.9"><tspan>2.知道解决矩形问题的基本思想是化为三角形</tspan><tspan x="1728" dy="14">问题来解决，渗透转化归思想。</tspan></text></g>
<g id="f9"><text class="t" x="1612" y="2477.9">情感与态度目标：</text></g>
<g id="f10"><text class="t" x="1728" y="2397.9"><tspan>1.在操作活动过程中，加深对矩形的的认识，</tspan><tspan x="1728" dy="14">并以此激发学生的探索精神。</tspan></text></g>
<g id="f11"><text class="t" x="1728" y="2543.9"><tspan>2.通过对矩形的探索学习，体会它的内在美和</tspan><tspan x="1728" dy="14">应用美。</tspan></text></g>
<g id="f12"><text class="t" x="1972" y="2458.4"><tspan>教学重点：矩形的性质和常用判别方法的理解</tspan><tspan x="1972" dy="13.5">和掌握。</tspan></text></g>
<g id="f13"><text class="t" x="1972" y="2519.9"><tspan>教学难点：矩形的性质和常用判别方法的综合</tspan><tspan x="1972" dy="13.5">应用。</tspan></text></g>
<g id="f14"><text class="t" x="1972" y="2580.9">教学方法：分析启发法</text></g>
<g id="f15"><text class="t" x="1972" y="2627.9"><tspan>教具准备：像框，平行四边形框架教具，多媒</tspan><tspan x="1972" dy="13.5">体课件。</tspan></text></g>
<g id="f16"><text class="t" x="1612" y="3445.9">教学过程设计：</text></g>
<g id="f17"><text class="t" x="1717" y="2689.9">一、情境导入：</text></g>
<g id="f18"><text class="t" x="1822" y="2689.9">演示平行四边形活动框架，引入课题。</text></g>
<g id="f19"><text class="t" x="1717" y="3100.9">二、讲授新课：</text></g>
<g id="f20"><text class="t" x="1822" y="2783.9">1.归纳矩形的定义：</text></g>
<g id="f21"><text class="t" x="1947" y="2736.9"><tspan>问题：从上面的演示过程可以发现：平行四边</tspan><tspan x="1947" dy="13.6">形具备什么条件时，就成了矩形?(学生思考、</tspan><tspan x="1947" dy="13.6">回答。)</tspan></text></g>
<g id="f22"><text class="t" x="1947" y="2810.4"><tspan>结论：有一个内角是直角的平行四边形是矩形</tspan><tspan x="1947" dy="14.5">。</tspan></text></g>
<g id="f23"><text class="t" x="1822" y="3418.9">2.探究矩形的性质：</text></g>
<g id="f24"><text class="t" x="1947" y="2871.9"><tspan>(1)问题：像框除了"有一个内角是直角"外，</tspan><tspan x="1947" dy="14">还具有哪些一般平行四边形不具备的性质?(学</tspan><tspan x="1947" dy="14">生思考、回答.)</tspan></text></g>
<g id="f25"><text class="t" x="2191" y="2885.9">结论：矩形的四个角都是直角。</text></g>
<g id="f26"><text class="t" x="1947" y="3090.9">(2)探索矩形对角线的性质：</text></g>
<g id="f27"><text class="t" x="2108" y="2946.9"><tspan>让学生进行如下操作后，思考以下问题：(幻</tspan><tspan x="2108" dy="14">灯片展示)</tspan></text></g>
<g id="f28"><text class="t" x="2108" y="3007.9"><tspan>在一个平行四边形活动框架上，用两根橡皮筋</tspan><tspan x="2108" dy="13.6">分别套在相对的两个顶点上，拉动一对不相邻</tspan><tspan x="2108" dy="13.6">的顶点，改变平行四边形的形状.</tspan></text></g>
<g id="f29"><text class="t" x="2108" y="3082.9"><tspan>①随着∠α的变化，两条对角线的长度分别是</tspan><tspan x="2108" dy="14">怎样变化的?</tspan></text></g>
<g id="f30"><text class="t" x="2108" y="3143.9"><tspan>②当∠α是锐角时，两条对角线的长度有什么</tspan><tspan x="2108" dy="14">关系?当∠α是钝角时呢?</tspan></text></g>
<g id="f31"><text class="t" x="2108" y="3220.9"><tspan>③当∠α是直角时，平行四边形变成矩形，此</tspan><tspan x="2108" dy="14">时两条对角线的长度有什么关系?</tspan></text></g>
<g id="f32"><text class="t" x="2352" y="3204.9">(学生操作，思考、交流、归纳。)</text></g>
<g id="f33"><text class="t" x="2352" y="3251.9">结论：矩形的两条对角线相等.</text></g>
<g id="f34"><text class="t" x="1947" y="3336.9">(3)议一议：(展示问题，引导学生讨论解决)</text></g>
<g id="f35"><text class="t" x="2179" y="3298.9"><tspan>①矩形是轴对称图形吗?如果是，它有几条对</tspan><tspan x="2179" dy="14">称轴?如果不是，简述你的理由.</tspan></text></g>
<g id="f36"><text class="t" x="2179" y="3359.9"><tspan>②直角三角形斜边上的中线等于斜边长的一半</tspan><tspan x="2179" dy="14">，你能用矩形的有关性质解释这结论吗?</tspan></text></g>
<g id="f37"><text class="t" x="1947" y="3566.9"><tspan>(4)归纳矩形的性质：(引导学生归纳，并体会</tspan><tspan x="1947" dy="14">矩形的"对称美")</tspan></text></g>
<g id="f38"><text class="t" x="2191" y="3420.9"><tspan>矩形的对边平行且相等;矩形的四个角都是直</tspan><tspan x="2191" dy="14">角;矩形的对角线相等且互相平分;矩形是轴对</tspan><tspan x="2191" dy="14">称图形.</tspan></text></g>
<g id="f39"><text class="t" x="2191" y="3495.9"><tspan>例解：(性质的运用，渗透矩形对角线的"化归</tspan><tspan x="2191" dy="14">"功能)</tspan></text></g>
<g id="f40"><text class="t" x="2191" y="3556.9"><tspan>如图，在矩形ABCD中，两条对角线AC，BD</tspan><tspan x="2191" dy="14">相交于点O，AB=OA=4</tspan></text></g>
<g id="f41"><text class="t" x="2191" y="3617.9">厘米，求BD与AD的长。</text></g>
<g id="f42"><text class="t" x="2191" y="3664.9">(引导学生分析、解答)</text></g>
<g id="f43"><text class="t" x="2191" y="3711.9">探索矩形的判别条件：(由修理桌子引出)</text></g>
<g id="f44"><text class="t" x="1947" y="3820.9">(5)想一想：(学生讨论、交流、共同学习)</text></g>
<g id="f45"><text class="t" x="2169" y="3759.9"><tspan>对角线相等的平行四边形是怎样的四边形?为</tspan><tspan x="2169" dy="13.5">什么?</tspan></text></g>
<g id="f46"><text class="t" x="2169" y="3820.9">结论：对角线相等的平行四边形是矩形.</text></g>
<g id="f47"><text class="t" x="2169" y="3868.4"><tspan>(理由可由师生共同分析，然后用幻灯片展示</tspan><tspan x="2169" dy="13.5">完整过程.)</tspan></text></g>
<g id="f48"><text class="t" x="1947" y="3952.9">(6)归纳矩形的判别方法：(引导学生归纳)</text></g>
<g id="f49"><text class="t" x="2169" y="3928.9">有一个内角是直角的平行四边形是矩形.</text></g>
<g id="f50"><text class="t" x="2169" y="3975.9">对角线相等的平行四边形是矩形.</text></g>
<g id="f51"><text class="t" x="1717" y="4023.9"><tspan>三、课堂练习：(出示P98随堂练习题，学生</tspan><tspan x="1717" dy="14">思考、解答。)</tspan></text></g>
<g id="f52"><text class="t" x="1717" y="4108.9">四、新课小结：</text></g>
<g id="f53"><text class="t" x="1822" y="4084.9">通过本节课的学习，你有什么收获?</text></g>
<g id="f54"><text class="t" x="1822" y="4132.9">(师生共同从知识与思想方法两方面小结。)</text></g>
<g id="f55"><text class="t" x="1717" y="4203.9">五、作业设计：P99习题4.6第1、2、3题。</text></g>
<g id="f56"><text class="t" x="1950" y="4179.9">板书设计:</text></g>
<g id="f57"><text class="t" x="1950" y="4225.9">1.矩形</text></g>
<g id="f58"><text class="t" x="1612" y="4274.9">矩形的定义：</text></g>
<g id="f59"><text class="t" x="1612" y="4321.9">矩形的性质：</text></g>
<g id="f60"><text class="t" x="1612" y="4412.9">前面知识的小系统图示：</text></g>
<g id="f61"><text class="t" x="1760" y="4412.9">2.矩形的判别条件：</text></g>
<g id="f62"><text class="t" x="1886" y="4367.9">例1</text></g>
<g id="f63"><text class="t" x="1886" y="4415.9"><tspan>课后反思：在平行四边形及菱形的教学后，学</tspan><tspan x="1886" dy="14">生已经学会自主探索的方法，自己动手猜想验</tspan><tspan x="1886" dy="14">证一些矩形的特殊性质，一些相关矩形的计算</tspan><tspan x="1886" dy="14">也学会应用转化为直角三角形的方法来解决。</tspan><tspan x="1886" dy="14">总的看来这节课学生掌握的还不错，当然合情</tspan><tspan x="1886" dy="14">推理的能力要慢慢的熟练，不可能一下就掌握</tspan><tspan x="1886" dy="14">熟练。</tspan></text></g>
</g>

<g id="related-items">
<g id="g1"><text class="t" x="1672" y="4545.9">★ 初中数学教学设计与反思5篇</text></g>
<g id="g2"><text class="t" x="1672" y="4592.9">★ 初二数学上册教案最新范文</text></g>
<g id="g3"><text class="t" x="1672" y="4639.9">★ 最新初二数学教案范文模板</text></g>
<g id="g4"><text class="t" x="1672" y="4687.9">★ 初二上册数学教学设计素材5篇</text></g>
<g id="g5"><text class="t" x="1672" y="4734.9">★ 最新人教八年级上册数学教学设计</text></g>
<g id="g6"><text class="t" x="1672" y="4781.9">★ 人教八年级下册数学教学设计五篇</text></g>
<g id="g7"><text class="t" x="1672" y="4828.9">★ 最新初二数学教案模板范文模板</text></g>
<g id="g8"><text class="t" x="1672" y="4876.9">★ 初中八年级数学下册教学设计5篇</text></g>
<g id="g9"><text class="t" x="1672" y="4923.9">★ 2021初二数学教案大全范文</text></g>
<g id="g10"><text class="t" x="1672" y="4970.9">★ 2020八年级数学下优秀教学设计</text></g>
</g>

<g id="watermarks">
<text class="wm" x="351" y="705" transform="rotate(-32 351 705)">树图 shutu.cn</text>
<text class="wm" x="351" y="1711" transform="rotate(-32 351 1711)">树图 shutu.cn</text>
<text class="wm" x="351" y="2720" transform="rotate(-32 351 2720)">树图 shutu.cn</text>
<text class="wm" x="351" y="3703" transform="rotate(-32 351 3703)">树图 shutu.cn</text>
<text class="wm" x="351" y="4695" transform="rotate(-32 351 4695)">树图 shutu.cn</text>
<text class="wm" x="1628" y="702" transform="rotate(-32 1628 702)">树图 shutu.cn</text>
<text class="wm" x="1628" y="1689" transform="rotate(-32 1628 1689)">树图 shutu.cn</text>
<text class="wm" x="1628" y="2700" transform="rotate(-32 1628 2700)">树图 shutu.cn</text>
<text class="wm" x="1628" y="3700" transform="rotate(-32 1628 3700)">树图 shutu.cn</text>
<text class="wm" x="1628" y="4679" transform="rotate(-32 1628 4679)">树图 shutu.cn</text>
</g>
</g>
</svg>
